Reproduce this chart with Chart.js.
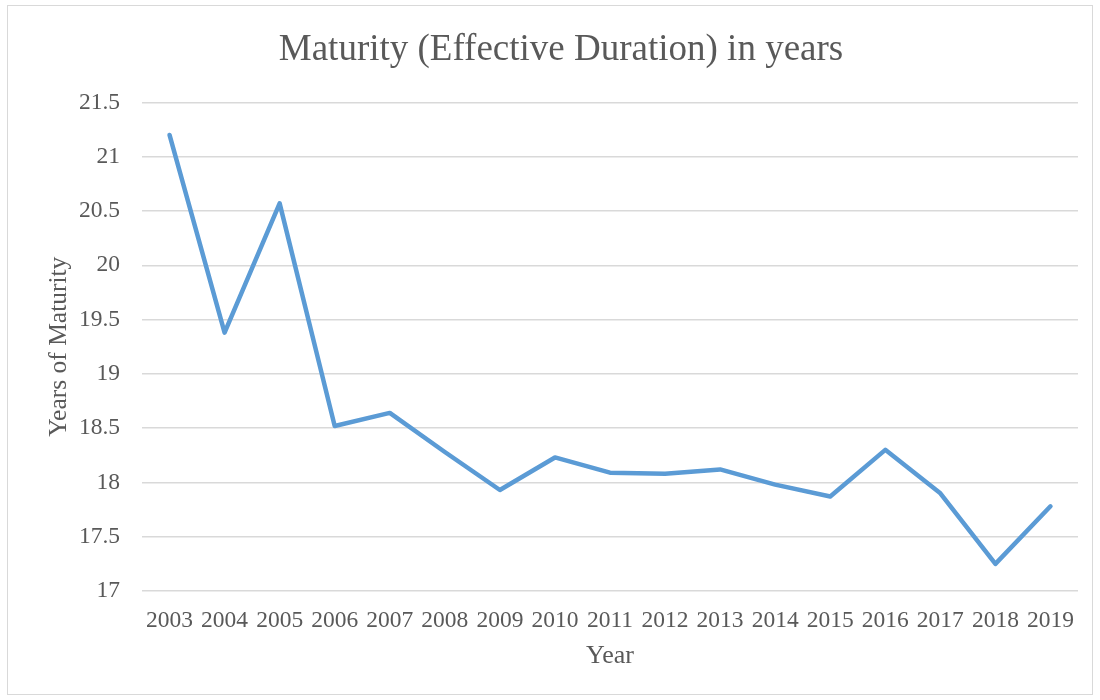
<!DOCTYPE html>
<html>
<head>
<meta charset="utf-8">
<script src="https://cdn.jsdelivr.net/npm/chart.js@4.4.0/dist/chart.umd.min.js"></script>
<style>
  body { margin: 0; background: #fff; }
  #wrap { position: relative; width: 1100px; height: 700px; }
  #frame { position: absolute; left: 7px; top: 5px; width: 1084px; height: 688px; border: 1.5px solid #d9d9d9; pointer-events: none; }
</style>
</head>
<body>
<div id="wrap">
  <canvas id="maturityChart" width="1100" height="700"></canvas>
  <div id="frame"></div>
</div>
<script>
// years on the x axis
var years = ['2003','2004','2005','2006','2007','2008','2009','2010','2011','2012','2013','2014','2015','2016','2017','2018','2019'];
// effective duration, in years
var maturity = [21.2, 19.38, 20.57, 18.52, 18.64, 18.28, 17.93, 18.23, 18.09, 18.08, 18.12, 17.98, 17.87, 18.30, 17.90, 17.25, 17.78];
// y axis range and step
var yMin = 17, yMax = 21.5, yStep = 0.5;

var serif = "'Liberation Serif', 'Times New Roman', serif";
var textColor = '#595959';

var ctx = document.getElementById('maturityChart').getContext('2d');
var chart = new Chart(ctx, {
    type: 'line',
    data: {
        labels: years,
        datasets: [{
            label: 'Maturity',
            data: maturity,
            borderColor: '#5b9bd5',
            borderWidth: 4.5,
            borderCapStyle: 'round',
            borderJoinStyle: 'round',
            pointRadius: 0,
            tension: 0,
            fill: false
        }]
    },
    options: {
        responsive: false,
        animation: false,
        layout: {
            padding: { left: 44, right: 22, top: 28, bottom: 28 }
        },
        plugins: {
            legend: { display: false },
            tooltip: { enabled: false },
            title: {
                display: true,
                text: 'Maturity (Effective Duration) in years',
                color: textColor,
                font: { family: serif, size: 37, weight: 'normal' },
                padding: { top: 0, bottom: 30 }
            }
        },
        scales: {
            x: {
                offset: true,
                grid: { display: false, drawTicks: false },
                border: { display: false },
                ticks: {
                    color: textColor,
                    font: { family: serif, size: 23.5 },
                    maxRotation: 0,
                    autoSkip: false,
                    padding: 16
                },
                title: {
                    display: true,
                    text: 'Year',
                    color: textColor,
                    font: { family: serif, size: 26 },
                    padding: { top: 6, bottom: 0 }
                },
                afterFit: function (s) { s.height = 81; }
            },
            y: {
                min: yMin,
                max: yMax,
                grid: { color: '#d9d9d9', lineWidth: 1.5, drawTicks: false },
                border: { display: false },
                ticks: {
                    stepSize: yStep,
                    color: textColor,
                    font: { family: serif, size: 23.5 },
                    padding: 22,
                    callback: function (v) { return String(v); }
                },
                title: {
                    display: true,
                    text: 'Years of Maturity',
                    color: textColor,
                    font: { family: serif, size: 25.5 },
                    padding: { top: 0, bottom: 0 }
                },
                afterFit: function (s) { s.width = 98; }
            }
        }
    }
});
</script>
</body>
</html>
